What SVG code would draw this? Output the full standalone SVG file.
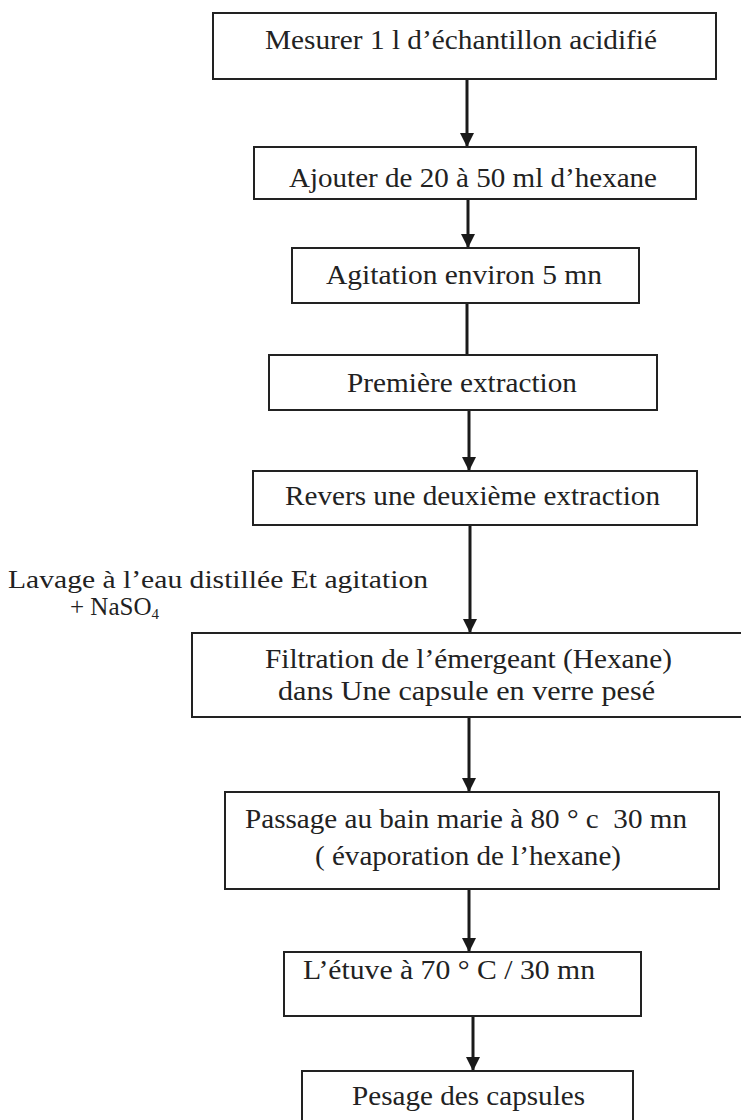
<svg xmlns="http://www.w3.org/2000/svg" width="741" height="1120" viewBox="0 0 741 1120">
<defs>
<style>
.box{fill:#fff;stroke:#222;stroke-width:2}
.t{font-family:"Liberation Serif","Times New Roman",serif;font-size:28px;fill:#222}
.s{font-size:25px}
.c{stroke:#1a1a1a;stroke-width:3;fill:none}
</style>
<marker id="ah" markerUnits="userSpaceOnUse" markerWidth="14" markerHeight="14" refX="14" refY="7" orient="auto">
<path d="M0,0 L14,7 L0,14 Z" fill="#1a1a1a"/>
</marker>
</defs>
<rect width="741" height="1120" fill="#fff"/>
<g id="connectors">
<line class="c" x1="467" y1="79" x2="467" y2="147" marker-end="url(#ah)"/>
<line class="c" x1="468" y1="199" x2="468" y2="248" marker-end="url(#ah)"/>
<line class="c" x1="467" y1="303" x2="467" y2="355"/>
<line class="c" x1="469" y1="410" x2="469" y2="471" marker-end="url(#ah)"/>
<line class="c" x1="470" y1="526" x2="470" y2="633" marker-end="url(#ah)"/>
<line class="c" x1="469" y1="717" x2="469" y2="792" marker-end="url(#ah)"/>
<line class="c" x1="469" y1="889" x2="469" y2="952" marker-end="url(#ah)"/>
<line class="c" x1="473" y1="1016" x2="473" y2="1071" marker-end="url(#ah)"/>
</g>
<g id="n1"><rect class="box" x="213" y="13" width="503" height="66"/><text class="t" x="265" y="49" textLength="392" lengthAdjust="spacingAndGlyphs">Mesurer 1 l d’échantillon acidifié</text></g>
<g id="n2"><rect class="box" x="254" y="147" width="442" height="52"/><text class="t" x="289" y="187" textLength="368" lengthAdjust="spacingAndGlyphs">Ajouter de 20 à 50 ml d’hexane</text></g>
<g id="n3"><rect class="box" x="292" y="248" width="347" height="55"/><text class="t" x="326" y="284" textLength="276" lengthAdjust="spacingAndGlyphs">Agitation environ 5 mn</text></g>
<g id="n4"><rect class="box" x="269" y="355" width="388" height="55"/><text class="t" x="347" y="392" textLength="230" lengthAdjust="spacingAndGlyphs">Première extraction</text></g>
<g id="n5"><rect class="box" x="253" y="471" width="444" height="54"/><text class="t" x="285" y="505" textLength="375" lengthAdjust="spacingAndGlyphs">Revers une deuxième extraction</text></g>
<g id="label"><text class="t s" x="8" y="588" textLength="420" lengthAdjust="spacingAndGlyphs">Lavage à l’eau distillée Et agitation</text><text class="t s" x="70" y="615">+ NaSO<tspan font-size="15" dy="4">4</tspan></text></g>
<g id="n6"><rect class="box" x="192" y="633" width="560" height="84"/><text class="t" x="265" y="668" textLength="407" lengthAdjust="spacingAndGlyphs">Filtration de l’émergeant (Hexane)</text><text class="t" x="278" y="700" textLength="377" lengthAdjust="spacingAndGlyphs">dans Une capsule en verre pesé</text></g>
<g id="n7"><rect class="box" x="225" y="792" width="494" height="97"/><text class="t" x="245" y="828" textLength="442" lengthAdjust="spacingAndGlyphs">Passage au bain marie à 80 ° c&#160; 30 mn</text><text class="t" x="315" y="865" textLength="306" lengthAdjust="spacingAndGlyphs">( évaporation de l’hexane)</text></g>
<g id="n8"><rect class="box" x="284" y="952" width="357" height="64"/><text class="t" x="303" y="979" textLength="292" lengthAdjust="spacingAndGlyphs">L’étuve à 70 ° C / 30 mn</text></g>
<g id="n9"><rect class="box" x="302" y="1071" width="331" height="60"/><text class="t" x="352" y="1105" textLength="233" lengthAdjust="spacingAndGlyphs">Pesage des capsules</text></g>
</svg>
